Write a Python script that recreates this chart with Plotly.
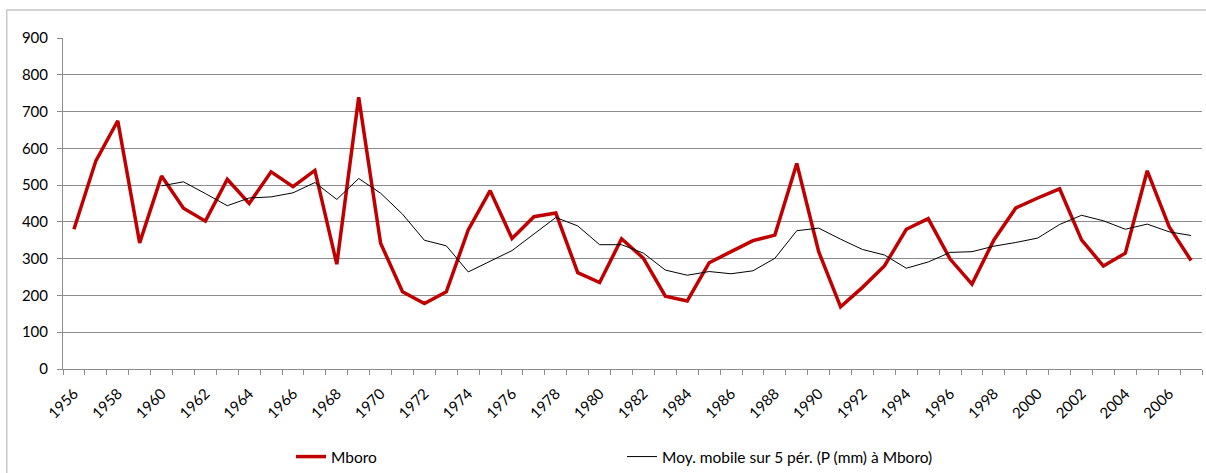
import plotly.graph_objects as go

# Annual rainfall at Mboro (mm) and its 5-period trailing moving average
years = list(range(1956, 2008))
rain_mm = [
    380, 566, 675, 343, 525, 437, 402, 516, 450, 536,
    496, 540, 285, 739, 342, 210, 178, 210, 378, 485,
    355, 414, 424, 262, 235, 354, 301, 198, 185, 289,
    319, 349, 364, 559, 319, 169, 222, 280, 380, 409,
    299, 231, 351, 438, 465, 490, 351, 280, 315, 539,
    387, 295,
]
# moving average starts at the 5th year (1960)
ma_years = list(range(1960, 2008))
ma_mm = [
    498, 509, 477, 444, 465, 468, 479, 507, 461, 518,
    478, 421, 350, 335, 264, 292, 322, 367, 412, 389,
    338, 338, 315, 269, 255, 265, 259, 267, 301, 376,
    383, 353, 325, 310, 274, 291, 317, 319, 334, 344,
    356, 393, 418, 403, 380, 394, 373, 363,
]
y_ticks = list(range(0, 1000, 100))
x_labels = list(range(1956, 2008, 2))

FONT = "Lato, Open Sans, sans-serif"
GRID = "#8c8c8c"
FSIZE = 15

fig = go.Figure()
fig.add_trace(go.Scatter(
    x=years, y=rain_mm, mode="lines", name="Mboro",
    line=dict(color="#C00000", width=3.5),
))
fig.add_trace(go.Scatter(
    x=ma_years, y=ma_mm, mode="lines",
    name="Moy. mobile sur 5 pér. (P (mm) à Mboro)",
    line=dict(color="#000000", width=1),
))

fig.update_xaxes(
    range=[years[0] - 0.5, years[-1] + 0.5],
    tickvals=x_labels, ticktext=[str(v) for v in x_labels],
    tickangle=-45, ticks="", showgrid=False,
    showline=True, linecolor=GRID, linewidth=1,
    ticklabelstandoff=9,
    tickfont=dict(family=FONT, size=FSIZE, color="#000"),
    minor=dict(tick0=years[0] - 0.5, dtick=1, ticks="outside",
               ticklen=5, tickcolor=GRID, tickwidth=1, showgrid=False),
    zeroline=False,
)
fig.update_yaxes(
    range=[0, 900], tickvals=y_ticks,
    ticks="outside", ticklen=5, tickcolor=GRID, tickwidth=1,
    showgrid=True, gridcolor=GRID, gridwidth=1,
    showline=True, linecolor=GRID, linewidth=1,
    zeroline=False, ticklabelstandoff=6,
    tickfont=dict(family=FONT, size=FSIZE, color="#000"),
)

# outer chart frame
fig.add_shape(type="rect", xref="paper", yref="paper",
              x0=-0.0494, x1=1.02, y0=-0.4, y1=1.0846,
              line=dict(color="#c8c8c8", width=1.5), layer="below")

fig.update_layout(
    width=1206, height=473,
    margin=dict(l=63, r=4, t=38, b=104),
    paper_bgcolor="white", plot_bgcolor="white",
    font=dict(family=FONT, size=FSIZE, color="#000"),
    legend=dict(
        orientation="h", xref="container", yref="container",
        x=291 / 1206, xanchor="left", y=16 / 473, yanchor="middle",
        entrywidth=286, entrywidthmode="pixels",
        font=dict(family=FONT, size=15.5, color="#000"),
        bgcolor="rgba(0,0,0,0)",
    ),
)

fig.write_html("out.html")
